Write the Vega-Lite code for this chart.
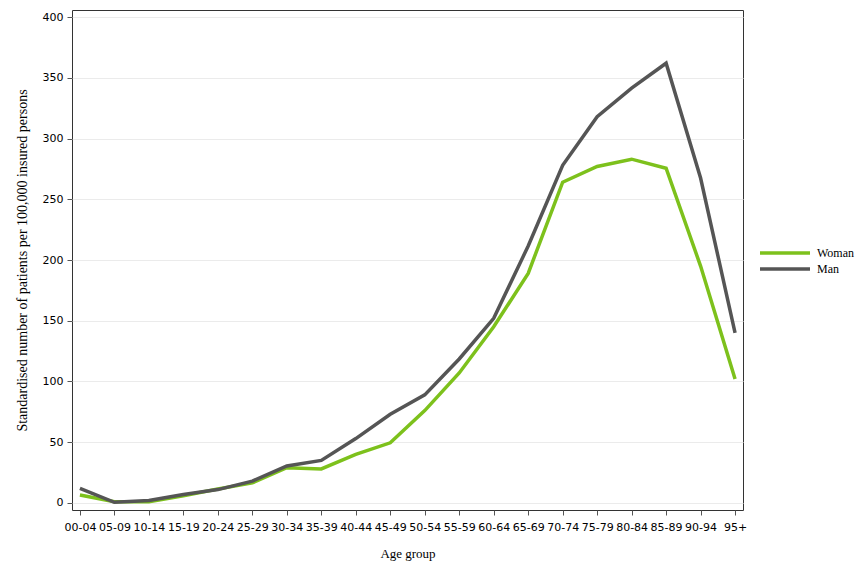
{
  "$schema": "https://vega.github.io/schema/vega-lite/v6.json",
  "autosize": {"type": "none"},
  "width": 671,
  "height": 500,
  "padding": {"left": 72, "top": 10, "right": 121, "bottom": 66},
  "background": "white",
  "config": {
    "view": {"stroke": "#333333", "strokeWidth": 1},
    "axis": {"domain": false}
  },
  "data": {
    "values": [
      {"age": "00-04", "sex": "Woman", "v": 6.6},
      {"age": "05-09", "sex": "Woman", "v": 1},
      {"age": "10-14", "sex": "Woman", "v": 1},
      {"age": "15-19", "sex": "Woman", "v": 6},
      {"age": "20-24", "sex": "Woman", "v": 11.5},
      {"age": "25-29", "sex": "Woman", "v": 16.5},
      {"age": "30-34", "sex": "Woman", "v": 29},
      {"age": "35-39", "sex": "Woman", "v": 28},
      {"age": "40-44", "sex": "Woman", "v": 40},
      {"age": "45-49", "sex": "Woman", "v": 49.5},
      {"age": "50-54", "sex": "Woman", "v": 76},
      {"age": "55-59", "sex": "Woman", "v": 107},
      {"age": "60-64", "sex": "Woman", "v": 145},
      {"age": "65-69", "sex": "Woman", "v": 189},
      {"age": "70-74", "sex": "Woman", "v": 264},
      {"age": "75-79", "sex": "Woman", "v": 277},
      {"age": "80-84", "sex": "Woman", "v": 283},
      {"age": "85-89", "sex": "Woman", "v": 275.5},
      {"age": "90-94", "sex": "Woman", "v": 195},
      {"age": "95+", "sex": "Woman", "v": 102},
      {"age": "00-04", "sex": "Man", "v": 12},
      {"age": "05-09", "sex": "Man", "v": 0.5},
      {"age": "10-14", "sex": "Man", "v": 2},
      {"age": "15-19", "sex": "Man", "v": 7},
      {"age": "20-24", "sex": "Man", "v": 11},
      {"age": "25-29", "sex": "Man", "v": 18},
      {"age": "30-34", "sex": "Man", "v": 30.5},
      {"age": "35-39", "sex": "Man", "v": 35},
      {"age": "40-44", "sex": "Man", "v": 53},
      {"age": "45-49", "sex": "Man", "v": 73},
      {"age": "50-54", "sex": "Man", "v": 89},
      {"age": "55-59", "sex": "Man", "v": 118.5},
      {"age": "60-64", "sex": "Man", "v": 152},
      {"age": "65-69", "sex": "Man", "v": 211.5},
      {"age": "70-74", "sex": "Man", "v": 278},
      {"age": "75-79", "sex": "Man", "v": 318},
      {"age": "80-84", "sex": "Man", "v": 341.5},
      {"age": "85-89", "sex": "Man", "v": 362},
      {"age": "90-94", "sex": "Man", "v": 267.5},
      {"age": "95+", "sex": "Man", "v": 140}
    ]
  },
  "mark": {"type": "line", "strokeWidth": 3.5, "strokeJoin": "miter"},
  "encoding": {
    "x": {
      "field": "age", "type": "ordinal",
      "scale": {"type": "point", "padding": 0.23},
      "axis": {
        "title": "Age group",
        "titleFont": "Liberation Serif", "titleFontSize": 13, "titleFontWeight": "normal", "titleColor": "#000",
        "titlePadding": 15,
        "labelFont": "DejaVu Sans", "labelFontSize": 11, "labelColor": "#000", "labelAngle": 0,
        "labelPadding": 6,
        "tickColor": "#555", "tickSize": 5, "grid": false
      }
    },
    "y": {
      "field": "v", "type": "quantitative",
      "scale": {"domain": [-5.8, 405.8], "nice": false, "zero": false},
      "axis": {
        "title": "Standardised number of patients per 100,000 insured persons",
        "titleFont": "Liberation Serif", "titleFontSize": 14, "titleFontWeight": "normal", "titleColor": "#000",
        "titlePadding": 13,
        "values": [0, 50, 100, 150, 200, 250, 300, 350, 400],
        "labelFont": "DejaVu Sans", "labelFontSize": 11, "labelColor": "#000",
        "labelPadding": 4,
        "tickColor": "#555", "tickSize": 5,
        "grid": true, "gridColor": "#ebebeb", "gridWidth": 1
      }
    },
    "color": {
      "field": "sex", "type": "nominal",
      "scale": {"domain": ["Woman", "Man"], "range": ["#7dc11c", "#555555"]},
      "sort": ["Woman", "Man"],
      "legend": {
        "title": null,
        "orient": "none",
        "legendX": 686,
        "legendY": 236,
        "symbolType": "stroke",
        "symbolSize": 2500,
        "symbolStrokeWidth": 3.5,
        "clipHeight": 14,
        "labelFont": "Liberation Serif", "labelFontSize": 12, "labelColor": "#000",
        "labelOffset": 5,
        "rowPadding": 2
      }
    }
  }
}
